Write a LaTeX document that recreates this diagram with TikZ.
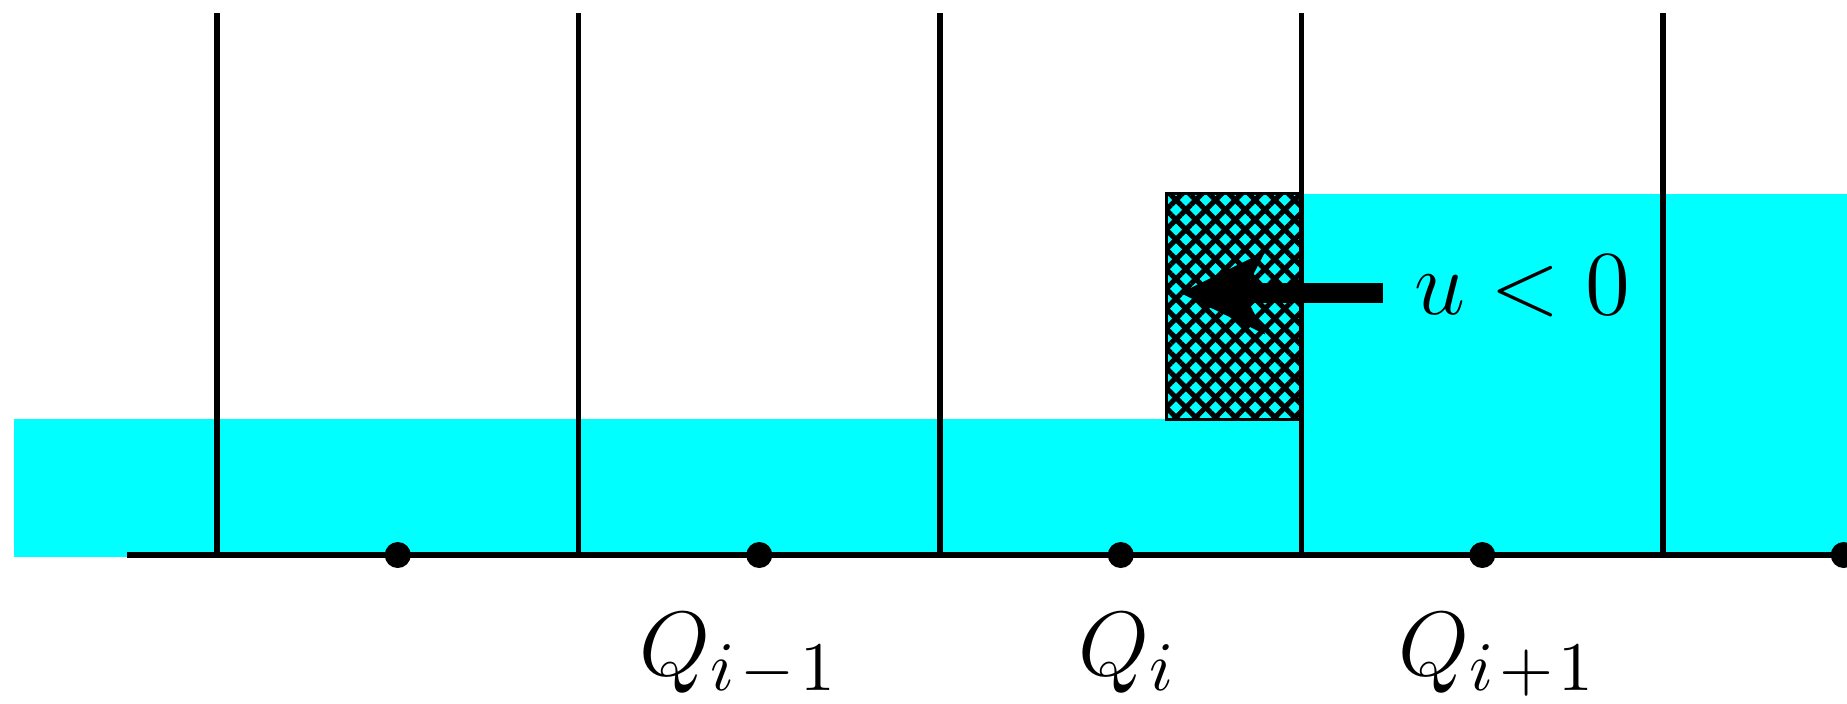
\documentclass[tikz,border=0pt]{standalone}
\usepackage{amsmath}
\usepackage{tikz}
\usetikzlibrary{arrows.meta,patterns.meta}
\definecolor{water}{RGB}{0,255,255}

\begin{document}
\begin{tikzpicture}[
  gridline/.style={line width=0.8pt},
  point/.style={circle, fill=black, inner sep=0pt, minimum size=0.144cm},
  flowarrow/.style={-{Stealth[length=0.47cm, width=0.46cm, inset=0.12cm, line width=0pt]}, line width=0.11cm},
  hatch/.style={pattern={Lines[angle=#1, distance=2.2pt, line width=0.8pt]}},
  lab/.style={font=\fontsize{15}{18}\selectfont, inner sep=0pt, anchor=base}
]
  \useasboundingbox (-1.2006,-0.824) rectangle (9.018,3.0705);
  % water: low state on the left, high state on the right
  \fill[water] (-1.123,-0.01) rectangle (6,0.75);
  \fill[water] (6,-0.01) rectangle (9.1,2);
  % piece of the wave that moves into cell i
  \fill[water] (5.254,0.75) rectangle (6,2);
  \fill[hatch=45] (5.254,0.75) rectangle (6,2);
  \fill[hatch=-45] (5.254,0.75) rectangle (6,2);
  \draw[line width=0.4pt] (5.254,0.75) rectangle (6,2);
  % cell edges and the axis
  \foreach \x in {0,2,...,8} {
    \draw[gridline] (\x,0) -- (\x,3);
  }
  \draw[gridline] (-0.5,0) -- (9.1,0);
  % cell centres
  \foreach \i/\x in {1/1, 2/3, 3/5, 4/7, 5/9} {
    \node[point] (c\i) at (\x,0) {};
  }
  \node[lab] (qim) at (2.888,-0.669) {$Q_{i\mkern1.5mu-\mkern1.5mu1}$};
  \node[lab] (qi)  at (5.040,-0.669) {$Q_i$};
  \node[lab] (qip) at (7.085,-0.669) {$Q_{i\mkern1.5mu+\mkern1.5mu1}$};
  % speed
  \coordinate (tail) at (6.45,1.45);
  \coordinate (tip)  at (5.33,1.45);
  \draw[flowarrow] (tail) -- (tip);
  \node[lab, anchor=base west] (speed) at (6.617,1.328) {$u<0$};
\end{tikzpicture}
\end{document}
